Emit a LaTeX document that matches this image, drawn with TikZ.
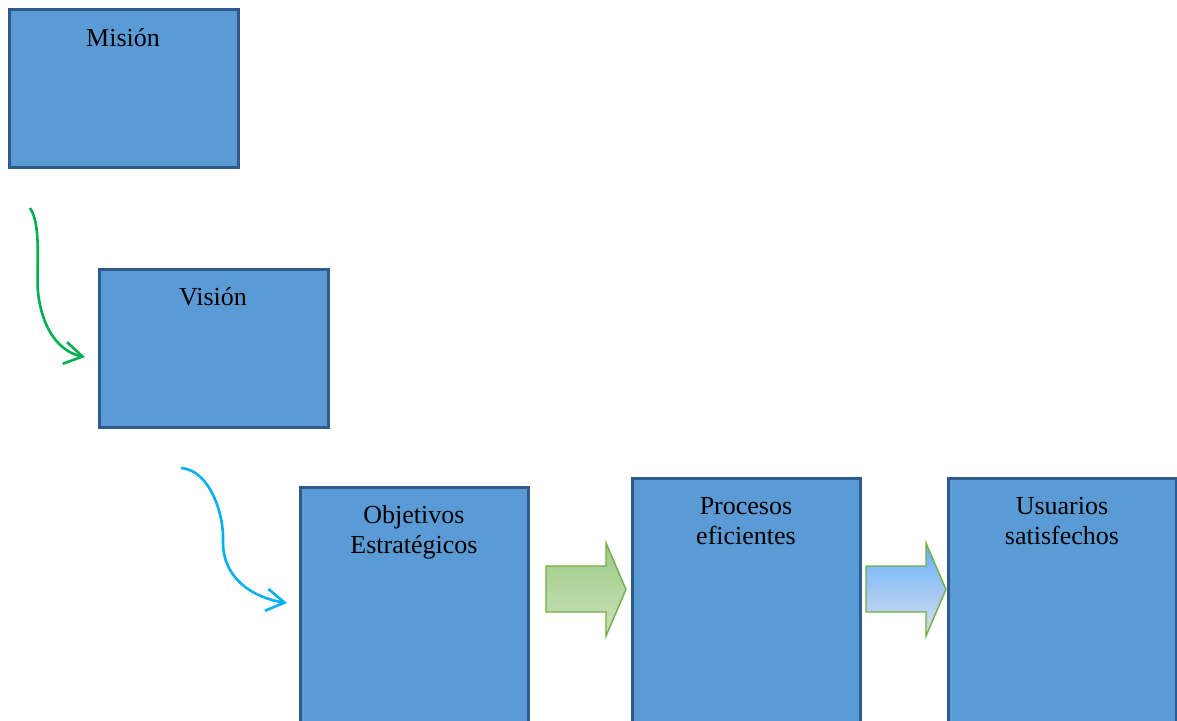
\documentclass[tikz,border=0pt]{standalone}
\usepackage{fontspec}
\setmainfont{Liberation Serif}
\usetikzlibrary{arrows.meta}
\definecolor{boxfill}{HTML}{5B9BD5}
\definecolor{boxline}{HTML}{2F5A8C}
\definecolor{curvegreen}{HTML}{00B050}
\definecolor{curveblue}{HTML}{00B0F0}
\definecolor{arrowline}{HTML}{70AD47}
\begin{document}
\begin{tikzpicture}[x=1pt,y=-1pt,
  stage/.style={draw=boxline, fill=boxfill, line width=3pt},
  caption/.style={anchor=base, align=center, font=\fontsize{26}{30}\selectfont, text=black, inner sep=0pt},
  flow/.style={line width=2.6pt, -{Straight Barb[length=18pt,width=22pt,line width=2.6pt]}},
  blockarrow/.style={draw=arrowline, line width=1.4pt, line join=miter}
]
\useasboundingbox (0,0) rectangle (1177,720);
\clip (0,0) rectangle (1177,720);

% stage boxes
\path[stage] (9,9) rectangle (238,167);
\path[stage] (99,269) rectangle (328,427);
\path[stage] (300,487) rectangle (528,730);
\path[stage] (632,478) rectangle (860,730);
\path[stage] (948,478) rectangle (1176,730);

% box titles (base anchor sits on the last line)
\node[caption] (mision) at (123,46) {Misión};
\node[caption] (vision) at (213,305) {Visión};
\node[caption] (objetivos) at (414,553) {Objetivos\\Estratégicos};
\node[caption] (procesos) at (746,544) {Procesos\\eficientes};
\node[caption] (usuarios) at (1062,544) {Usuarios\\satisfechos};

% curved connectors
\coordinate (g0) at (30,208);
\coordinate (g1) at (85,357);
\draw[flow, draw=curvegreen] (g0) .. controls (42,225) and (36,270) .. (38,292)
  .. controls (42,330) and (60,352) .. (g1);
\coordinate (b0) at (181,468);
\coordinate (b1) at (287,603);
\draw[flow, draw=curveblue] (b0) .. controls (210,470) and (224,515) .. (223,540)
  .. controls (222,580) and (255,598) .. (b1);

% block arrows
\path[blockarrow, top color={rgb,255:red,159;green,203;blue,137}, bottom color={rgb,255:red,199;green,225;blue,182}]
  (546,566) -- (606,566) -- (606,543) -- (626,589.5) -- (606,636) -- (606,612) -- (546,612) -- cycle;
\path[blockarrow, top color={rgb,255:red,102;green,176;blue,255}, bottom color={rgb,255:red,216;green,222;blue,232}]
  (866,566) -- (926,566) -- (926,543) -- (946,589.5) -- (926,636) -- (926,612) -- (866,612) -- cycle;
\end{tikzpicture}
\end{document}
